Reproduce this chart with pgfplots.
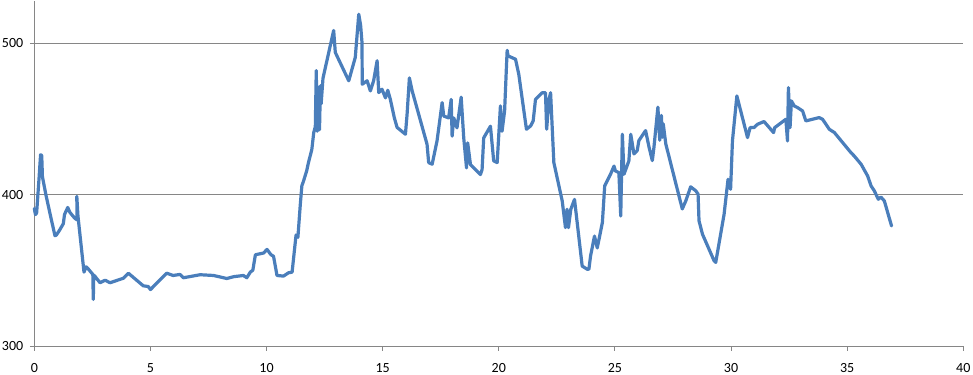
\documentclass[border=0pt]{standalone}
\usepackage{fontspec}
\setmainfont{Carlito}
\usepackage{pgfplots}
\pgfplotsset{compat=1.18}
\definecolor{exblue}{RGB}{74,126,187}
\definecolor{exgrid}{RGB}{134,134,134}
\begin{document}
\begin{tikzpicture}[x=1pt,y=1pt]
\begin{axis}[
  scale only axis,
  width=929pt, height=345.5pt,
  xmin=0, xmax=40, ymin=300, ymax=528,
  axis x line=bottom, axis y line=left,
  axis line style={-, exgrid, line width=1pt},
  xtick={0,5,...,40}, ytick={300,400,500},
  tick align=outside,
  major tick length=4.5pt,
  tick style={exgrid, line width=1pt},
  ymajorgrids,
  grid style={exgrid, line width=1pt},
  /pgf/number format/assume math mode=true,
  ticklabel style={font=\fontsize{14}{14}\selectfont, text=black},
  xticklabel style={inner sep=0pt, yshift=-12.5pt},
  yticklabel style={xshift=-3pt},
  clip=false,
]
\addplot[exblue, line width=3.2pt, line join=round, line cap=round, mark=none] coordinates {
(0,391) (0.05,387) (0.1,388) (0.2,410) (0.27,426.5) (0.32,426) (0.35,412) (0.5,400) (0.7,386) (0.89,373) (0.95,373.5) (1.1,377) (1.25,381) (1.3,387) (1.44,391.7) (1.53,388.5) (1.74,384.6) (1.84,383.5) (1.83,399) (1.88,386) (2.14,349) (2.23,352.5) (2.33,351) (2.52,347.5) (2.54,331) (2.56,347) (2.6,346.5) (2.83,342) (3.05,343.7) (3.26,342) (3.84,345) (4.05,348.3) (4.69,340) (4.91,339.5) (5.0,337.5) (5.7,348.3) (5.98,346.8) (6.27,347.5) (6.42,345.3) (7.14,347.3) (7.72,346.8) (8.29,344.8) (8.58,346) (9.0,346.8) (9.15,345.3) (9.3,349) (9.41,350.3) (9.52,360.5) (9.87,361.6) (10.02,364) (10.19,360.5) (10.3,359.5) (10.45,346.8) (10.73,346.4) (10.95,348.6) (11.1,349) (11.27,373.5) (11.35,372) (11.45,393) (11.52,406) (11.59,409) (11.73,416) (11.8,421) (11.95,430) (12.03,441) (12.1,445) (12.14,482) (12.18,442) (12.24,471) (12.28,443) (12.32,472) (12.35,460) (12.43,477) (12.89,508.5) (12.96,494) (13.47,477.5) (13.54,475.3) (13.82,490.7) (13.97,519.2) (14.05,512) (14.11,500.5) (14.12,473) (14.33,475.3) (14.47,468.6) (14.61,475.3) (14.76,488.5) (14.83,467.5) (14.97,469.7) (15.12,464) (15.22,469) (15.33,463) (15.5,451) (15.62,444.5) (15.98,440) (16.05,453) (16.15,477.2) (16.27,468.6) (16.91,433.4) (16.98,421.3) (17.13,420.2) (17.34,435.6) (17.56,460.9) (17.63,452) (17.84,450.8) (17.95,463) (17.99,438.7) (18.06,450.8) (18.2,444.2) (18.38,464.5) (18.49,437.6) (18.61,417.8) (18.66,434.3) (18.78,420) (19.21,413.4) (19.28,416.7) (19.35,437.6) (19.64,445.3) (19.78,422.4) (19.93,421.3) (20.07,458.7) (20.14,442) (20.25,455.4) (20.33,485) (20.36,495.4) (20.4,491.7) (20.72,489.5) (20.86,479.6) (21.19,443.3) (21.37,445.5) (21.48,448.8) (21.58,463) (21.87,467.4) (22.01,467.4) (22.06,443.3) (22.16,463) (22.23,467.4) (22.37,421.3) (22.73,396) (22.87,378.4) (22.94,390.5) (23.0,378.4) (23.1,390.5) (23.26,397) (23.59,353) (23.81,350.9) (23.88,351) (23.95,359.6) (24.12,372.8) (24.24,365) (24.46,381.8) (24.56,406) (24.81,413.6) (24.96,419) (25.02,415.8) (25.17,414.7) (25.25,386) (25.32,440) (25.39,413.6) (25.6,422.4) (25.68,440) (25.82,427) (25.96,429.2) (26.03,435.8) (26.32,442.4) (26.47,431.4) (26.61,422.6) (26.68,431.4) (26.85,457.9) (26.93,436) (27.0,452.4) (27.04,438) (27.08,446.9) (27.19,433.6) (27.9,390.7) (28.05,396) (28.26,405.3) (28.48,402.7) (28.58,400.5) (28.62,382.9) (28.77,374) (29.27,356.5) (29.34,355.4) (29.7,387.2) (29.87,410.3) (29.98,403.7) (30.06,435.6) (30.25,465.3) (30.71,437.8) (30.82,444.4) (30.99,444.4) (31.14,446.6) (31.42,448.4) (31.83,441.1) (31.88,444.4) (32.36,449.9) (32.43,435.6) (32.47,470.8) (32.54,444.4) (32.6,462) (32.72,458.7) (32.86,457.6) (33.08,455.4) (33.22,448.8) (33.79,451) (33.94,449.9) (34.23,443.3) (34.45,441.1) (35.16,427.9) (35.3,425.7) (35.6,420.2) (35.88,412.5) (36.03,405.9) (36.17,402.6) (36.34,397.1) (36.45,398.6) (36.6,396) (36.91,379.5)
};
\end{axis}
\pgfresetboundingbox
\path ([shift={(-34.3pt,-28.3pt)}]current axis.south west) rectangle ([shift={(9.7pt,0.9pt)}]current axis.north east);
\end{tikzpicture}
\end{document}
